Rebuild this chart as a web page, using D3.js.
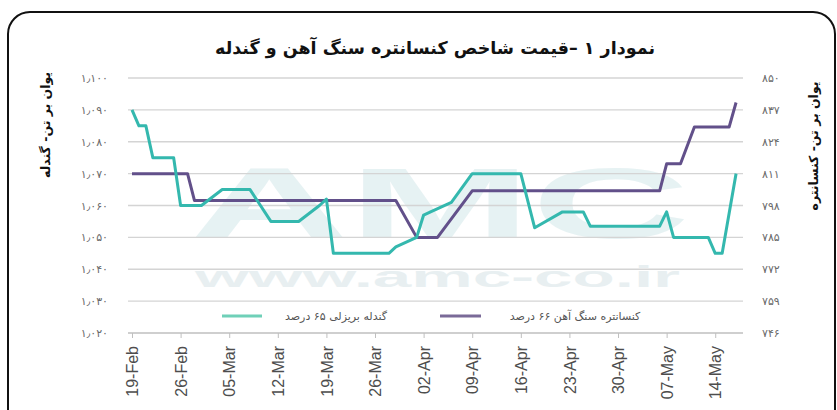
<!DOCTYPE html>
<html>
<head>
<meta charset="utf-8">
<script src="https://cdn.jsdelivr.net/npm/d3@7"></script>
<style>
  body { margin: 0; background: #fff; }
  svg { display: block; }
  text { font-family: "DejaVu Sans", sans-serif; }
</style>
</head>
<body>
<svg id="chart" width="837" height="410"></svg>
<script>
// pellet 65% (left axis) - vertices
const pelletDates = ["2018-02-19","2018-02-20","2018-02-21","2018-02-22","2018-02-25","2018-02-26",
  "2018-03-01","2018-03-04","2018-03-08","2018-03-11","2018-03-15","2018-03-18","2018-03-19",
  "2018-03-20","2018-03-28","2018-03-29","2018-04-01","2018-04-02","2018-04-03","2018-04-06",
  "2018-04-09","2018-04-16","2018-04-18","2018-04-22","2018-04-25","2018-04-26","2018-05-06",
  "2018-05-07","2018-05-08","2018-05-13","2018-05-14","2018-05-15","2018-05-17"];
const pelletValues = [1090,1085,1085,1075,1075,1060,1060,1065,1065,1055,1055,1060,1062,
  1045,1045,1047,1050,1057,1058,1061,1070,1070,1053,1058,1058,1053.5,1053.5,
  1058,1050,1050,1045,1045,1070];

// concentrate 66% (right axis)
const concDates = ["2018-02-19","2018-02-27","2018-02-28","2018-03-29","2018-04-01","2018-04-04",
  "2018-04-09","2018-05-06","2018-05-07","2018-05-09","2018-05-11","2018-05-16","2018-05-17"];
const concValues = [811,811,800,800,785,785,804,804,815,815,830,830,840];

const leftTicks = [1020,1030,1040,1050,1060,1070,1080,1090,1100];
const rightTicks = [746,759,772,785,798,811,824,837,850];
const weekTicks = ["2018-02-19","2018-02-26","2018-03-05","2018-03-12","2018-03-19","2018-03-26",
  "2018-04-02","2018-04-09","2018-04-16","2018-04-23","2018-04-30","2018-05-07","2018-05-14"];

const title = "نمودار ۱ –قیمت شاخص کنسانتره سنگ آهن و گندله";
const leftTitle = "یوان بر تن- گندله";
const rightTitle = "یوان بر تن- کنسانتره";
const pelletName = "گندله بریزلی ۶۵ درصد";
const concName = "کنسانتره سنگ آهن ۶۶ درصد";

const tealColor = "#34b8ae";
const purpleColor = "#62508a";

const parse = d3.timeParse("%Y-%m-%d");
const fa = s => String(s).replace(/\d/g, c => "۰۱۲۳۴۵۶۷۸۹"[c]);

const svg = d3.select("#chart");
const plotLeft = 128, plotRight = 743, plotTop = 78, plotBottom = 333;

// outer frame
svg.append("rect")
  .attr("x", 8).attr("y", 12).attr("width", 827).attr("height", 420)
  .attr("rx", 22).attr("fill", "#fff").attr("stroke", "#111").attr("stroke-width", 2);

const x = d3.scaleTime()
  .domain([parse("2018-02-19"), parse("2018-05-18")])
  .range([132, plotRight]);
const yL = d3.scaleLinear().domain([1020, 1100]).range([plotBottom, plotTop]);
const yR = d3.scaleLinear().domain([746, 850]).range([plotBottom, plotTop]);

// faint watermark
svg.append("text")
  .attr("x", 190).attr("y", 238)
  .attr("textLength", 500).attr("lengthAdjust", "spacingAndGlyphs")
  .attr("font-size", 100).attr("font-weight", "bold")
  .style("font-family", "Liberation Sans, Arial, sans-serif")
  .attr("fill", "#d3e8ea").attr("opacity", 0.55)
  .text("AMC");
svg.append("text")
  .attr("x", 195).attr("y", 287)
  .attr("textLength", 485).attr("lengthAdjust", "spacingAndGlyphs")
  .attr("font-size", 30).attr("font-weight", "bold")
  .style("font-family", "Liberation Sans, Arial, sans-serif")
  .attr("fill", "#d9e6e8").attr("opacity", 0.6)
  .text("www.amc-co.ir");

// gridlines
svg.append("g")
  .selectAll("line")
  .data(leftTicks.slice(1))
  .join("line")
  .attr("x1", plotLeft).attr("x2", plotRight)
  .attr("y1", d => yL(d)).attr("y2", d => yL(d))
  .attr("stroke", "#d4d4d4").attr("stroke-width", 1.3);

// title
svg.append("text")
  .attr("x", 435).attr("y", 54)
  .attr("text-anchor", "middle")
  .attr("font-size", 17.5).attr("font-weight", "bold")
  .attr("fill", "#111")
  .text(title);

// left axis
const gL = svg.append("g")
  .attr("transform", `translate(${plotLeft},0)`)
  .call(d3.axisLeft(yL).tickValues(leftTicks).tickSize(0).tickPadding(20)
    .tickFormat(d => fa(d3.format(",")(d)).replace(",", "٫")));
gL.select(".domain").remove();
gL.selectAll("text").attr("font-size", 11).attr("fill", "#6a6a6a")
  .style("font-family", "DejaVu Sans, sans-serif");

// right axis
const gR = svg.append("g")
  .attr("transform", `translate(${plotRight},0)`)
  .call(d3.axisRight(yR).tickValues(rightTicks).tickSize(0).tickPadding(19)
    .tickFormat(d => fa(d)));
gR.select(".domain").remove();
gR.selectAll("text").attr("font-size", 11).attr("fill", "#6a6a6a")
  .style("font-family", "DejaVu Sans, sans-serif");

// axis titles
svg.append("text")
  .attr("transform", "translate(46,125) rotate(-90)")
  .attr("text-anchor", "middle").attr("dy", "0.35em")
  .attr("font-size", 12.5).attr("font-weight", "bold").attr("fill", "#111")
  .text(leftTitle);
svg.append("text")
  .attr("transform", "translate(814,146) rotate(-90)")
  .attr("text-anchor", "middle").attr("dy", "0.35em")
  .attr("font-size", 12.5).attr("font-weight", "bold").attr("fill", "#111")
  .text(rightTitle);

// x axis
svg.append("line")
  .attr("x1", plotLeft).attr("x2", plotRight)
  .attr("y1", plotBottom).attr("y2", plotBottom)
  .attr("stroke", "#bfbfbf").attr("stroke-width", 1.3);
const gX = svg.append("g")
  .attr("transform", `translate(0,${plotBottom})`)
  .call(d3.axisBottom(x).tickValues(weekTicks.map(parse)).tickSize(5)
    .tickFormat(d3.timeFormat("%d-%b")));
gX.select(".domain").remove();
gX.selectAll(".tick line").attr("stroke", "#bfbfbf");
gX.selectAll("text")
  .attr("transform", "rotate(-90)")
  .attr("text-anchor", "end")
  .attr("x", -13).attr("y", 0).attr("dy", "0.36em")
  .attr("font-size", 16).attr("fill", "#4d4d4d")
  .style("font-family", "Liberation Sans, Arial, sans-serif");

// legend
const legend = svg.append("g");
legend.append("line").attr("x1", 222).attr("x2", 262).attr("y1", 316).attr("y2", 316)
  .attr("stroke", "#6fd0b8").attr("stroke-width", 3);
legend.append("text").attr("x", 336).attr("y", 316).attr("dy", "0.35em")
  .attr("text-anchor", "middle").attr("font-size", 11).attr("fill", "#555")
  .text(pelletName);
legend.append("line").attr("x1", 440).attr("x2", 481).attr("y1", 316).attr("y2", 316)
  .attr("stroke", "#7a6a98").attr("stroke-width", 3);
legend.append("text").attr("x", 575).attr("y", 316).attr("dy", "0.35em")
  .attr("text-anchor", "middle").attr("font-size", 11).attr("fill", "#555")
  .text(concName);

// series lines
const pellet = pelletDates.map((d, i) => ({ date: parse(d), value: pelletValues[i] }));
const conc = concDates.map((d, i) => ({ date: parse(d), value: concValues[i] }));

svg.append("path")
  .datum(conc)
  .attr("fill", "none").attr("stroke", purpleColor).attr("stroke-width", 3)
  .attr("stroke-linejoin", "round")
  .attr("d", d3.line().x(d => x(d.date)).y(d => yR(d.value)));

svg.append("path")
  .datum(pellet)
  .attr("fill", "none").attr("stroke", tealColor).attr("stroke-width", 3)
  .attr("stroke-linejoin", "round")
  .attr("d", d3.line().x(d => x(d.date)).y(d => yL(d.value)));
</script>
</body>
</html>
